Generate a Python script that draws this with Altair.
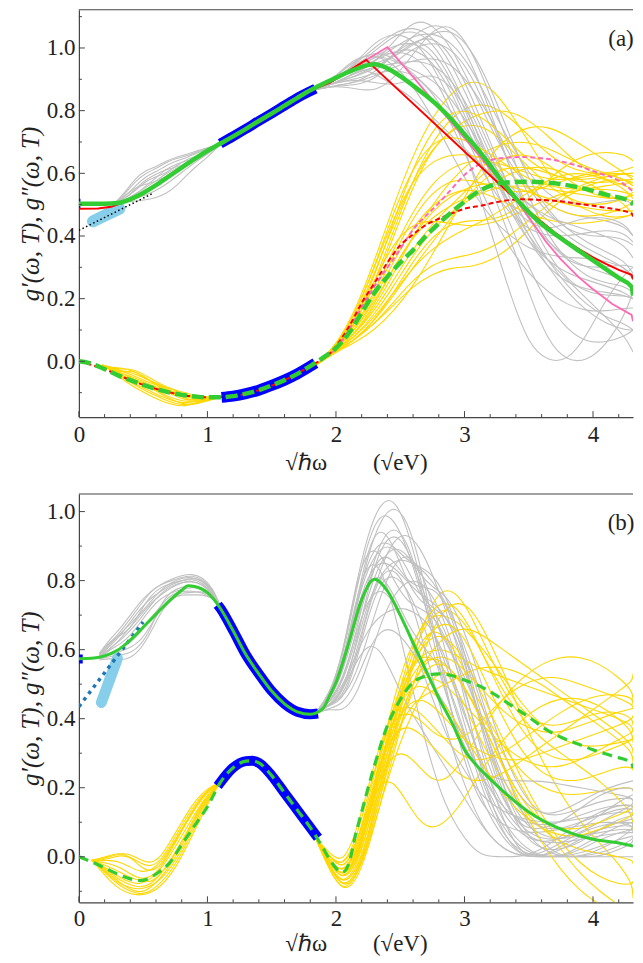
import altair as alt
import pandas as pd

# ---------------- layout constants ----------------
W = 555
HA, HB = 408, 409
X_MAX = 4.311
YA_DOM = [-0.178, 1.122]
YB_DOM = [-0.132, 1.051]
FONT = "Liberation Serif"
FRAME = "#444444"
TXT = "#222222"
GRAY, GOLD = "#c0c0c0", "#ffd700"
GREEN, RED, PINK = "#32cd32", "#ff0000", "#ff69b4"
BLUE, SKY, TAB = "#0000ff", "#87ceeb", "#1f77b4"

X_MAJOR = [0, 1, 2, 3, 4]
X_MINOR = [0.2, 0.4, 0.6, 0.8, 1.2, 1.4, 1.6, 1.8, 2.2, 2.4, 2.6, 2.8, 3.2, 3.4, 3.6,
           3.8, 4.2]
YA_MAJOR = [0.0, 0.2, 0.4, 0.6, 0.8, 1.0]
YA_MINOR = [-0.1, 0.1, 0.3, 0.5, 0.7, 0.9, 1.1]
YB_MAJOR = [0.0, 0.2, 0.4, 0.6, 0.8, 1.0]
YB_MINOR = [-0.1, 0.1, 0.3, 0.5, 0.7, 0.9]
X_TITLE = "\u221a\u210f\u03c9\u2003\u2003(\u221aeV)"
Y_TITLE = "g\u2032(\u03c9, T), g\u2033(\u03c9, T)"
LABELS = ["(a)", "(b)"]

# ================= panel (a) data =================
GA_X = [0.0, 0.1, 0.2, 0.3, 0.4, 0.5, 0.6, 0.7, 0.8, 0.9, 1.0, 1.1, 1.2, 1.3, 1.4, 1.5,
        1.6, 1.7, 1.8, 1.9, 2.0, 2.1, 2.2, 2.3, 2.4, 2.5, 2.6, 2.7, 2.8, 2.9, 3.0, 3.1,
        3.2, 3.3, 3.4, 3.5, 3.6, 3.7, 3.8, 3.9, 4.0, 4.1, 4.2, 4.3, 4.4]
GA_Y = [0.503, 0.503, 0.503, 0.505, 0.517, 0.537, 0.562, 0.59, 0.618, 0.646, 0.672, 0.695,
        0.718, 0.742, 0.767, 0.791, 0.816, 0.841, 0.865, 0.886, 0.905, 0.924, 0.94, 0.948,
        0.935, 0.91, 0.88, 0.848, 0.813, 0.772, 0.725, 0.678, 0.625, 0.57, 0.52, 0.476,
        0.438, 0.407, 0.378, 0.35, 0.322, 0.294, 0.266, 0.238, 0.21]

GDA_X = [0.0, 0.1, 0.2, 0.3, 0.4, 0.5, 0.6, 0.7, 0.8, 0.9, 1.0, 1.1, 1.2, 1.3, 1.4, 1.5,
         1.6, 1.7, 1.8, 1.9, 2.0, 2.1, 2.2, 2.3, 2.4, 2.5, 2.6, 2.7, 2.8, 2.9, 3.0, 3.1,
         3.2, 3.3, 3.5, 3.7, 3.9, 4.1, 4.3, 4.4]
GDA_Y = [0.0, -0.008, -0.025, -0.044, -0.06, -0.075, -0.088, -0.099, -0.107, -0.112,
         -0.115, -0.115, -0.111, -0.103, -0.092, -0.077, -0.06, -0.04, -0.015, 0.012,
         0.042, 0.09, 0.155, 0.22, 0.27, 0.315, 0.355, 0.40, 0.44, 0.476, 0.51, 0.54,
         0.56, 0.57, 0.573, 0.568, 0.554, 0.532, 0.508, 0.498]

RA_X = [0.0, 0.15, 0.25, 0.33, 0.4, 0.5, 0.6, 0.7, 0.8, 0.9, 1.0, 1.1, 1.2, 1.3, 1.4, 1.5,
        1.6, 1.7, 1.8, 1.95, 2.235, 3.4, 3.5, 3.6, 3.7, 3.8, 3.9, 4.0, 4.1, 4.2, 4.3, 4.4]
RA_Y = [0.487, 0.488, 0.493, 0.505, 0.517, 0.537, 0.562, 0.59, 0.618, 0.646, 0.672, 0.695,
        0.718, 0.742, 0.767, 0.791, 0.816, 0.841, 0.865, 0.889, 0.962, 0.517, 0.48, 0.445,
        0.412, 0.382, 0.356, 0.332, 0.311, 0.292, 0.276, 0.262]

RDA_X = [0.0, 0.2, 0.4, 0.6, 0.8, 1.0, 1.2, 1.4, 1.6, 1.8, 1.95, 2.1, 2.21, 2.3, 2.4,
         2.5, 2.6, 2.7, 2.8, 2.9, 3.0, 3.12, 3.3, 3.45, 3.6, 3.76, 3.9, 4.1, 4.3, 4.4]
RDA_Y = [0.0, -0.025, -0.06, -0.088, -0.107, -0.115, -0.111, -0.092, -0.06, -0.015, 0.024,
         0.11, 0.193, 0.25, 0.315, 0.37, 0.405, 0.435, 0.455, 0.472, 0.487, 0.496, 0.512,
         0.517, 0.515, 0.51, 0.502, 0.49, 0.472, 0.462]

PA_X = [1.95, 2.235, 2.4, 2.6, 2.8, 3.0, 3.2, 3.35, 3.5, 3.63, 3.75, 3.89, 4.0, 4.15,
        4.3, 4.4]
PA_Y = [0.889, 0.962, 1.003, 0.908, 0.81, 0.712, 0.614, 0.544, 0.46, 0.384, 0.325, 0.268,
        0.23, 0.183, 0.148, 0.128]

PDA_X = [1.95, 2.0, 2.1, 2.21, 2.3, 2.47, 2.6, 2.8, 2.9, 3.0, 3.1, 3.2, 3.3, 3.45, 3.6,
         3.75, 3.89, 4.05, 4.2, 4.4]
PDA_Y = [0.024, 0.04, 0.1, 0.18, 0.24, 0.34, 0.42, 0.505, 0.55, 0.595, 0.625, 0.642,
         0.649, 0.652, 0.648, 0.638, 0.623, 0.60, 0.577, 0.542]

BA1_X = [1.1, 1.2, 1.3, 1.4, 1.5, 1.6, 1.7, 1.84]
BA1_Y = [0.695, 0.718, 0.742, 0.767, 0.791, 0.816, 0.841, 0.87]
BA2_X = [1.11, 1.2, 1.3, 1.4, 1.5, 1.6, 1.7, 1.84]
BA2_Y = [-0.115, -0.111, -0.103, -0.092, -0.077, -0.06, -0.04, -0.006]
BA0_X = [0.0, 0.012]
BA0_Y = [0.503, 0.503]
SKYA_X = [0.11, 0.2, 0.315]
SKYA_Y = [0.447, 0.465, 0.487]
DOTA_X = [0.0, 0.57]
DOTA_Y = [0.418, 0.535]

GLA_X = [0.28, 0.36, 0.44, 0.52, 0.6, 0.68, 0.76, 0.84, 0.92, 1.0, 1.1]
GLA = [
    [0.505, 0.515, 0.535, 0.555, 0.575, 0.600, 0.615, 0.635, 0.655, 0.672, 0.693],
    [0.505, 0.525, 0.560, 0.590, 0.605, 0.625, 0.640, 0.650, 0.665, 0.678, 0.693],
    [0.505, 0.510, 0.520, 0.530, 0.545, 0.565, 0.590, 0.615, 0.640, 0.660, 0.693],
    [0.505, 0.535, 0.575, 0.600, 0.615, 0.635, 0.648, 0.655, 0.668, 0.680, 0.693],
    [0.505, 0.508, 0.512, 0.515, 0.522, 0.535, 0.560, 0.595, 0.625, 0.650, 0.693],
    [0.505, 0.520, 0.545, 0.575, 0.590, 0.600, 0.625, 0.645, 0.655, 0.670, 0.693],
    [0.505, 0.512, 0.530, 0.560, 0.585, 0.615, 0.630, 0.640, 0.650, 0.665, 0.693],
    [0.505, 0.530, 0.555, 0.565, 0.575, 0.590, 0.605, 0.625, 0.648, 0.668, 0.693],
    [0.505, 0.515, 0.525, 0.540, 0.560, 0.580, 0.605, 0.628, 0.648, 0.667, 0.693],
    [0.505, 0.540, 0.585, 0.610, 0.620, 0.640, 0.652, 0.660, 0.672, 0.682, 0.693],
    [0.505, 0.518, 0.550, 0.580, 0.598, 0.612, 0.620, 0.632, 0.652, 0.672, 0.693],
    [0.505, 0.509, 0.518, 0.538, 0.566, 0.592, 0.612, 0.628, 0.644, 0.662, 0.693],
]
YLA_X = [0.18, 0.26, 0.34, 0.42, 0.5, 0.58, 0.66, 0.74, 0.82, 0.9, 1.0, 1.1]
YLA = [
    [-0.012, -0.025, -0.040, -0.055, -0.070, -0.082, -0.095, -0.105, -0.112, -0.116, -0.117, -0.115],
    [-0.012, -0.022, -0.025, -0.025, -0.040, -0.060, -0.078, -0.090, -0.100, -0.108, -0.114, -0.115],
    [-0.012, -0.030, -0.050, -0.068, -0.085, -0.100, -0.115, -0.128, -0.133, -0.130, -0.122, -0.115],
    [-0.012, -0.028, -0.035, -0.030, -0.045, -0.070, -0.090, -0.110, -0.122, -0.126, -0.120, -0.115],
    [-0.012, -0.032, -0.058, -0.080, -0.098, -0.115, -0.130, -0.140, -0.143, -0.136, -0.124, -0.115],
    [-0.012, -0.024, -0.032, -0.045, -0.060, -0.072, -0.085, -0.098, -0.108, -0.115, -0.118, -0.115],
    [-0.012, -0.026, -0.045, -0.062, -0.075, -0.088, -0.105, -0.120, -0.128, -0.128, -0.121, -0.115],
    [-0.012, -0.020, -0.022, -0.030, -0.050, -0.068, -0.080, -0.092, -0.105, -0.112, -0.116, -0.115],
    [-0.012, -0.030, -0.048, -0.060, -0.072, -0.090, -0.110, -0.125, -0.138, -0.138, -0.126, -0.115],
    [-0.012, -0.027, -0.040, -0.050, -0.065, -0.078, -0.092, -0.102, -0.112, -0.120, -0.120, -0.115],
    [-0.012, -0.021, -0.030, -0.038, -0.052, -0.066, -0.084, -0.100, -0.118, -0.124, -0.119, -0.115],
    [-0.012, -0.029, -0.052, -0.072, -0.090, -0.106, -0.122, -0.134, -0.140, -0.134, -0.123, -0.115],
]
RA_GRID = [1.85, 2.0, 2.15, 2.3, 2.45, 2.6, 2.75, 2.9, 3.05, 3.2, 3.35, 3.5, 3.65, 3.8,
           3.95, 4.1, 4.25, 4.4]
GRA = [
    [0.868, 0.90, 0.95, 1.00, 1.05, 1.07, 1.04, 0.95, 0.82, 0.68, 0.55, 0.45, 0.38, 0.33, 0.30, 0.28, 0.26, 0.23],
    [0.868, 0.89, 0.90, 0.89, 0.88, 0.90, 0.92, 0.88, 0.78, 0.64, 0.50, 0.38, 0.30, 0.25, 0.23, 0.22, 0.21, 0.20],
    [0.868, 0.91, 0.97, 0.98, 0.95, 0.88, 0.78, 0.66, 0.55, 0.46, 0.40, 0.36, 0.34, 0.33, 0.33, 0.32, 0.30, 0.27],
    [0.868, 0.88, 0.87, 0.86, 0.90, 0.98, 1.06, 1.08, 1.00, 0.85, 0.68, 0.52, 0.40, 0.32, 0.27, 0.25, 0.24, 0.22],
    [0.868, 0.90, 0.93, 0.96, 0.99, 1.00, 0.96, 0.86, 0.72, 0.56, 0.40, 0.22, 0.06, 0.00, 0.00, 0.05, 0.15, 0.22],
    [0.868, 0.89, 0.92, 0.95, 1.02, 1.09, 1.08, 1.00, 0.88, 0.75, 0.63, 0.55, 0.50, 0.47, 0.46, 0.45, 0.43, 0.40],
    [0.868, 0.90, 0.94, 0.92, 0.88, 0.84, 0.78, 0.72, 0.66, 0.60, 0.55, 0.50, 0.45, 0.40, 0.36, 0.33, 0.30, 0.26],
    [0.868, 0.89, 0.91, 0.94, 0.97, 1.02, 1.04, 0.98, 0.85, 0.70, 0.55, 0.42, 0.32, 0.24, 0.18, 0.14, 0.12, 0.10],
    [0.868, 0.90, 0.95, 1.02, 1.05, 1.03, 0.95, 0.82, 0.68, 0.56, 0.47, 0.42, 0.40, 0.40, 0.41, 0.42, 0.41, 0.38],
    [0.868, 0.88, 0.89, 0.91, 0.94, 0.96, 0.97, 0.95, 0.88, 0.78, 0.66, 0.55, 0.47, 0.42, 0.40, 0.40, 0.39, 0.37],
    [0.868, 0.90, 0.94, 0.97, 0.99, 0.98, 0.92, 0.80, 0.62, 0.42, 0.22, 0.05, 0.00, 0.00, 0.08, 0.20, 0.28, 0.30],
    [0.868, 0.89, 0.92, 0.96, 1.00, 1.04, 1.05, 1.02, 0.94, 0.82, 0.70, 0.60, 0.53, 0.50, 0.50, 0.51, 0.52, 0.50],
    [0.868, 0.91, 0.96, 0.99, 0.97, 0.92, 0.86, 0.80, 0.72, 0.62, 0.50, 0.40, 0.32, 0.26, 0.20, 0.14, 0.08, 0.03],
    [0.868, 0.88, 0.88, 0.90, 0.95, 1.00, 1.02, 1.00, 0.92, 0.78, 0.62, 0.48, 0.38, 0.32, 0.30, 0.30, 0.31, 0.30],
    [0.868, 0.90, 0.93, 0.95, 0.97, 1.01, 1.05, 1.06, 1.00, 0.88, 0.72, 0.58, 0.48, 0.42, 0.38, 0.35, 0.32, 0.28],
    [0.868, 0.89, 0.90, 0.92, 0.93, 0.92, 0.86, 0.76, 0.62, 0.48, 0.36, 0.28, 0.22, 0.18, 0.16, 0.16, 0.17, 0.17],
    [0.868, 0.90, 0.94, 0.99, 1.04, 1.06, 1.02, 0.92, 0.78, 0.62, 0.48, 0.38, 0.32, 0.28, 0.26, 0.24, 0.22, 0.20],
    [0.868, 0.89, 0.91, 0.93, 0.98, 1.03, 1.00, 0.90, 0.76, 0.60, 0.44, 0.30, 0.18, 0.10, 0.06, 0.06, 0.08, 0.10],
    [0.868, 0.90, 0.95, 0.98, 0.96, 0.93, 0.90, 0.84, 0.74, 0.64, 0.56, 0.50, 0.46, 0.44, 0.42, 0.40, 0.37, 0.33],
    [0.868, 0.88, 0.89, 0.92, 0.98, 1.04, 1.08, 1.06, 0.96, 0.80, 0.62, 0.46, 0.34, 0.26, 0.22, 0.21, 0.21, 0.20],
    [0.868, 0.90, 0.93, 0.97, 1.01, 1.02, 0.98, 0.88, 0.74, 0.60, 0.50, 0.44, 0.42, 0.44, 0.46, 0.46, 0.44, 0.40],
    [0.868, 0.89, 0.92, 0.94, 0.95, 0.96, 0.95, 0.90, 0.80, 0.66, 0.52, 0.40, 0.30, 0.22, 0.16, 0.12, 0.10, 0.10],
]
YRA = [
    [-0.010, 0.040, 0.12, 0.25, 0.42, 0.58, 0.70, 0.78, 0.82, 0.82, 0.78, 0.72, 0.66, 0.62, 0.60, 0.60, 0.61, 0.62],
    [-0.010, 0.030, 0.08, 0.15, 0.24, 0.34, 0.42, 0.48, 0.52, 0.55, 0.56, 0.56, 0.55, 0.54, 0.53, 0.52, 0.52, 0.51],
    [-0.010, 0.050, 0.16, 0.32, 0.50, 0.66, 0.78, 0.86, 0.90, 0.88, 0.80, 0.70, 0.60, 0.52, 0.48, 0.46, 0.46, 0.47],
    [-0.010, 0.030, 0.07, 0.12, 0.18, 0.24, 0.28, 0.30, 0.30, 0.32, 0.36, 0.42, 0.48, 0.53, 0.56, 0.58, 0.58, 0.57],
    [-0.010, 0.040, 0.11, 0.22, 0.36, 0.48, 0.57, 0.62, 0.64, 0.64, 0.62, 0.60, 0.58, 0.58, 0.59, 0.60, 0.60, 0.59],
    [-0.010, 0.035, 0.09, 0.17, 0.28, 0.40, 0.50, 0.58, 0.64, 0.68, 0.70, 0.70, 0.68, 0.65, 0.62, 0.60, 0.58, 0.56],
    [-0.010, 0.045, 0.13, 0.26, 0.38, 0.44, 0.45, 0.44, 0.43, 0.44, 0.46, 0.49, 0.52, 0.54, 0.55, 0.55, 0.54, 0.53],
    [-0.010, 0.030, 0.06, 0.10, 0.16, 0.24, 0.34, 0.45, 0.56, 0.66, 0.72, 0.75, 0.75, 0.72, 0.68, 0.64, 0.60, 0.58],
    [-0.010, 0.040, 0.10, 0.20, 0.32, 0.43, 0.50, 0.54, 0.55, 0.53, 0.50, 0.47, 0.45, 0.44, 0.44, 0.45, 0.46, 0.47],
    [-0.010, 0.050, 0.15, 0.30, 0.46, 0.58, 0.64, 0.66, 0.66, 0.64, 0.60, 0.55, 0.50, 0.47, 0.46, 0.47, 0.49, 0.51],
    [-0.010, 0.030, 0.07, 0.13, 0.22, 0.32, 0.40, 0.44, 0.45, 0.45, 0.47, 0.52, 0.58, 0.63, 0.66, 0.67, 0.66, 0.64],
    [-0.010, 0.040, 0.12, 0.24, 0.40, 0.56, 0.68, 0.74, 0.76, 0.74, 0.68, 0.62, 0.56, 0.52, 0.50, 0.50, 0.52, 0.54],
    [-0.010, 0.035, 0.09, 0.18, 0.30, 0.40, 0.46, 0.50, 0.53, 0.56, 0.60, 0.62, 0.62, 0.60, 0.57, 0.54, 0.50, 0.47],
    [-0.010, 0.030, 0.07, 0.12, 0.19, 0.26, 0.31, 0.33, 0.34, 0.36, 0.40, 0.45, 0.50, 0.54, 0.57, 0.59, 0.60, 0.60],
    [-0.010, 0.045, 0.14, 0.28, 0.44, 0.58, 0.68, 0.74, 0.78, 0.80, 0.80, 0.77, 0.72, 0.66, 0.61, 0.58, 0.56, 0.55],
    [-0.010, 0.040, 0.10, 0.19, 0.30, 0.40, 0.48, 0.53, 0.56, 0.57, 0.56, 0.54, 0.52, 0.50, 0.49, 0.48, 0.48, 0.48],
    [-0.010, 0.045, 0.13, 0.27, 0.45, 0.62, 0.74, 0.80, 0.80, 0.76, 0.70, 0.64, 0.60, 0.58, 0.58, 0.59, 0.60, 0.60],
    [-0.010, 0.035, 0.09, 0.16, 0.26, 0.36, 0.44, 0.50, 0.56, 0.62, 0.66, 0.66, 0.63, 0.58, 0.54, 0.52, 0.52, 0.53],
    [-0.010, 0.040, 0.11, 0.21, 0.34, 0.46, 0.54, 0.58, 0.58, 0.56, 0.54, 0.54, 0.56, 0.58, 0.60, 0.60, 0.58, 0.56],
    [-0.010, 0.030, 0.07, 0.13, 0.21, 0.30, 0.38, 0.46, 0.54, 0.60, 0.62, 0.62, 0.60, 0.58, 0.57, 0.57, 0.58, 0.58],
    [-0.010, 0.050, 0.15, 0.30, 0.48, 0.62, 0.70, 0.72, 0.70, 0.66, 0.62, 0.58, 0.56, 0.55, 0.55, 0.56, 0.57, 0.57],
    [-0.010, 0.035, 0.08, 0.14, 0.22, 0.30, 0.36, 0.40, 0.43, 0.46, 0.50, 0.54, 0.58, 0.60, 0.60, 0.58, 0.55, 0.52],
]

# ================= panel (b) data =================
GB_X = [0.0, 0.1, 0.2, 0.3, 0.4, 0.5, 0.6, 0.7, 0.8, 0.85, 0.9, 1.0, 1.1, 1.2, 1.3, 1.4,
        1.5, 1.6, 1.7, 1.8, 1.9, 1.95, 2.0, 2.1, 2.2, 2.3, 2.4, 2.5, 2.6, 2.7, 2.8, 2.9,
        3.0, 3.1, 3.2, 3.3, 3.4, 3.5, 3.6, 3.7, 3.8, 3.9, 4.0, 4.2, 4.4]
GB_Y = [0.574, 0.575, 0.582, 0.598, 0.628, 0.665, 0.703, 0.74, 0.772, 0.785, 0.783, 0.765,
        0.72, 0.655, 0.585, 0.53, 0.48, 0.443, 0.42, 0.413, 0.43, 0.466, 0.505, 0.62, 0.745,
        0.804, 0.77, 0.70, 0.62, 0.54, 0.46, 0.39, 0.31, 0.262, 0.225, 0.19, 0.158, 0.13,
        0.107, 0.088, 0.073, 0.06, 0.051, 0.04, 0.031]

GDB_X = [0.0, 0.1, 0.2, 0.3, 0.4, 0.48, 0.55, 0.6, 0.7, 0.8, 0.9, 1.0, 1.1, 1.2, 1.3, 1.35,
         1.4, 1.5, 1.6, 1.7, 1.8, 1.9, 1.95, 2.05, 2.1, 2.15, 2.2, 2.3, 2.4, 2.5, 2.6, 2.7,
         2.8, 2.9, 3.0, 3.116, 3.2, 3.37, 3.5, 3.63, 3.76, 3.89, 4.0, 4.15, 4.3, 4.4]
GDB_Y = [0.0, -0.015, -0.032, -0.05, -0.064, -0.069, -0.062, -0.05, -0.02, 0.035, 0.09,
         0.145, 0.215, 0.258, 0.277, 0.278, 0.272, 0.235, 0.185, 0.135, 0.085, 0.025,
         -0.007, -0.045, -0.02, 0.06, 0.13, 0.265, 0.38, 0.455, 0.505, 0.524, 0.53, 0.525,
         0.512, 0.495, 0.478, 0.437, 0.405, 0.37, 0.345, 0.326, 0.31, 0.292, 0.272, 0.257]

BB1_X = [1.08, 1.1, 1.2, 1.3, 1.4, 1.5, 1.6, 1.7, 1.8, 1.86]
BB1_Y = [0.73, 0.72, 0.655, 0.585, 0.53, 0.48, 0.443, 0.42, 0.413, 0.415]
BB2_X = [1.08, 1.1, 1.2, 1.3, 1.35, 1.4, 1.5, 1.6, 1.7, 1.8, 1.86]
BB2_Y = [0.205, 0.215, 0.258, 0.277, 0.278, 0.272, 0.235, 0.185, 0.135, 0.085, 0.055]
BB0_X = [0.0, 0.03]
BB0_Y = [0.573, 0.573]
SKYB_X = [0.175, 0.3]
SKYB_Y = [0.447, 0.575]
DOTB_X = [0.0, 0.5]
DOTB_Y = [0.435, 0.68]

GLB_X = [0.16, 0.24, 0.32, 0.40, 0.48, 0.56, 0.64, 0.72, 0.80, 0.88, 0.96, 1.04, 1.1]
GLB = [
    [0.580, 0.600, 0.630, 0.665, 0.700, 0.735, 0.760, 0.780, 0.795, 0.800, 0.790, 0.760, 0.727],
    [0.575, 0.590, 0.600, 0.620, 0.650, 0.690, 0.730, 0.760, 0.770, 0.770, 0.765, 0.750, 0.727],
    [0.585, 0.620, 0.650, 0.690, 0.730, 0.770, 0.790, 0.800, 0.810, 0.815, 0.805, 0.775, 0.727],
    [0.570, 0.575, 0.570, 0.575, 0.600, 0.650, 0.710, 0.750, 0.760, 0.758, 0.760, 0.750, 0.727],
    [0.580, 0.610, 0.640, 0.680, 0.720, 0.750, 0.770, 0.790, 0.800, 0.805, 0.795, 0.765, 0.727],
    [0.575, 0.600, 0.615, 0.640, 0.680, 0.720, 0.750, 0.765, 0.775, 0.780, 0.780, 0.760, 0.727],
    [0.590, 0.630, 0.660, 0.700, 0.740, 0.770, 0.790, 0.805, 0.815, 0.820, 0.810, 0.780, 0.727],
    [0.572, 0.585, 0.595, 0.605, 0.625, 0.670, 0.720, 0.755, 0.765, 0.765, 0.770, 0.755, 0.727],
    [0.578, 0.605, 0.625, 0.655, 0.690, 0.730, 0.765, 0.785, 0.795, 0.798, 0.790, 0.765, 0.727],
    [0.583, 0.615, 0.645, 0.675, 0.705, 0.740, 0.775, 0.795, 0.808, 0.810, 0.800, 0.770, 0.727],
    [0.588, 0.625, 0.640, 0.660, 0.712, 0.758, 0.782, 0.792, 0.800, 0.808, 0.802, 0.772, 0.727],
    [0.573, 0.580, 0.585, 0.590, 0.612, 0.660, 0.735, 0.770, 0.782, 0.785, 0.782, 0.758, 0.727],
]
YLB_X = [0.10, 0.16, 0.24, 0.32, 0.40, 0.48, 0.56, 0.64, 0.72, 0.80, 0.88, 0.96, 1.04, 1.1]
YLB = [
    [-0.010, -0.020, -0.040, -0.060, -0.075, -0.080, -0.065, -0.035, 0.010, 0.060, 0.110, 0.160, 0.195, 0.215],
    [-0.010, -0.010, -0.005, 0.005, 0.000, -0.020, -0.030, -0.010, 0.040, 0.090, 0.140, 0.180, 0.205, 0.215],
    [-0.010, -0.030, -0.060, -0.085, -0.100, -0.110, -0.100, -0.075, -0.040, 0.010, 0.070, 0.130, 0.185, 0.215],
    [-0.010, -0.015, -0.020, -0.030, -0.050, -0.065, -0.060, -0.030, 0.020, 0.075, 0.125, 0.170, 0.200, 0.215],
    [-0.010, -0.025, -0.050, -0.075, -0.095, -0.105, -0.090, -0.060, -0.020, 0.030, 0.090, 0.145, 0.190, 0.215],
    [-0.010, -0.012, -0.010, -0.015, -0.030, -0.045, -0.040, -0.015, 0.030, 0.080, 0.130, 0.175, 0.203, 0.215],
    [-0.010, -0.035, -0.070, -0.095, -0.108, -0.112, -0.105, -0.085, -0.050, 0.000, 0.060, 0.120, 0.180, 0.215],
    [-0.010, -0.018, -0.030, -0.045, -0.060, -0.070, -0.075, -0.050, -0.005, 0.045, 0.100, 0.155, 0.195, 0.215],
    [-0.010, -0.008, 0.000, 0.010, 0.008, -0.010, -0.020, 0.000, 0.050, 0.100, 0.150, 0.185, 0.207, 0.215],
    [-0.010, -0.028, -0.055, -0.080, -0.090, -0.095, -0.085, -0.065, -0.030, 0.020, 0.080, 0.140, 0.188, 0.215],
    [-0.010, -0.022, -0.045, -0.068, -0.082, -0.090, -0.080, -0.050, -0.010, 0.040, 0.095, 0.150, 0.192, 0.215],
    [-0.010, -0.005, 0.004, 0.012, 0.000, -0.030, -0.045, -0.025, 0.025, 0.080, 0.130, 0.176, 0.204, 0.215],
]
RB_GRID = [1.84, 1.95, 2.05, 2.15, 2.25, 2.35, 2.45, 2.55, 2.65, 2.75, 2.85, 2.95, 3.05,
           3.15, 3.3, 3.45, 3.6, 3.75, 3.9, 4.05, 4.2, 4.35, 4.45]
GRB = [
    [0.415, 0.46, 0.52, 0.70, 0.88, 0.98, 1.02, 0.98, 0.86, 0.68, 0.50, 0.34, 0.22, 0.14, 0.09, 0.07, 0.07, 0.08, 0.09, 0.10, 0.10, 0.09, 0.08],
    [0.415, 0.44, 0.45, 0.55, 0.70, 0.80, 0.82, 0.78, 0.70, 0.60, 0.48, 0.36, 0.25, 0.15, 0.05, 0.00, 0.00, 0.00, 0.02, 0.05, 0.07, 0.08, 0.08],
    [0.415, 0.47, 0.58, 0.78, 0.90, 0.88, 0.80, 0.74, 0.72, 0.70, 0.64, 0.54, 0.42, 0.30, 0.16, 0.08, 0.05, 0.05, 0.07, 0.10, 0.13, 0.15, 0.16],
    [0.415, 0.43, 0.42, 0.46, 0.56, 0.68, 0.76, 0.80, 0.80, 0.76, 0.68, 0.56, 0.42, 0.28, 0.10, 0.00, 0.00, 0.00, 0.00, 0.00, 0.00, 0.00, 0.00],
    [0.415, 0.45, 0.50, 0.62, 0.76, 0.86, 0.90, 0.88, 0.82, 0.78, 0.76, 0.70, 0.60, 0.48, 0.30, 0.18, 0.12, 0.12, 0.14, 0.16, 0.17, 0.17, 0.16],
    [0.415, 0.46, 0.55, 0.74, 0.86, 0.84, 0.72, 0.56, 0.40, 0.26, 0.15, 0.08, 0.03, 0.00, 0.00, 0.00, 0.02, 0.06, 0.10, 0.13, 0.15, 0.15, 0.14],
    [0.415, 0.44, 0.47, 0.58, 0.72, 0.84, 0.92, 0.94, 0.90, 0.82, 0.72, 0.60, 0.48, 0.36, 0.20, 0.10, 0.06, 0.05, 0.06, 0.07, 0.08, 0.08, 0.07],
    [0.415, 0.45, 0.48, 0.56, 0.62, 0.60, 0.52, 0.44, 0.38, 0.32, 0.26, 0.20, 0.14, 0.08, 0.02, 0.00, 0.00, 0.03, 0.06, 0.08, 0.09, 0.09, 0.08],
    [0.415, 0.47, 0.56, 0.72, 0.84, 0.90, 0.90, 0.84, 0.76, 0.72, 0.70, 0.64, 0.54, 0.42, 0.26, 0.16, 0.12, 0.13, 0.16, 0.19, 0.21, 0.22, 0.22],
    [0.415, 0.44, 0.46, 0.52, 0.64, 0.76, 0.85, 0.88, 0.84, 0.74, 0.60, 0.45, 0.32, 0.20, 0.08, 0.02, 0.00, 0.00, 0.01, 0.03, 0.05, 0.06, 0.06],
    [0.415, 0.46, 0.53, 0.66, 0.80, 0.92, 0.96, 0.92, 0.80, 0.64, 0.48, 0.36, 0.28, 0.24, 0.22, 0.22, 0.22, 0.21, 0.20, 0.19, 0.18, 0.17, 0.16],
    [0.415, 0.43, 0.44, 0.50, 0.60, 0.66, 0.66, 0.62, 0.56, 0.50, 0.44, 0.38, 0.30, 0.22, 0.10, 0.03, 0.00, 0.00, 0.00, 0.00, 0.02, 0.04, 0.05],
    [0.415, 0.46, 0.54, 0.70, 0.82, 0.86, 0.84, 0.80, 0.76, 0.74, 0.70, 0.62, 0.50, 0.36, 0.18, 0.06, 0.02, 0.02, 0.04, 0.08, 0.11, 0.12, 0.12],
    [0.415, 0.45, 0.51, 0.64, 0.75, 0.78, 0.74, 0.66, 0.56, 0.46, 0.36, 0.28, 0.22, 0.17, 0.13, 0.11, 0.10, 0.10, 0.11, 0.12, 0.13, 0.13, 0.12],
    [0.415, 0.44, 0.48, 0.60, 0.74, 0.82, 0.86, 0.86, 0.84, 0.80, 0.74, 0.66, 0.56, 0.44, 0.26, 0.12, 0.04, 0.00, 0.00, 0.02, 0.05, 0.08, 0.10],
    [0.415, 0.47, 0.57, 0.76, 0.92, 1.00, 0.98, 0.90, 0.78, 0.66, 0.56, 0.46, 0.36, 0.26, 0.14, 0.07, 0.04, 0.04, 0.05, 0.06, 0.07, 0.07, 0.07],
    [0.415, 0.45, 0.53, 0.72, 0.90, 0.96, 0.90, 0.80, 0.74, 0.72, 0.66, 0.54, 0.38, 0.22, 0.06, 0.00, 0.00, 0.02, 0.05, 0.08, 0.10, 0.11, 0.11],
    [0.415, 0.44, 0.47, 0.60, 0.78, 0.90, 0.94, 0.90, 0.80, 0.70, 0.62, 0.56, 0.48, 0.38, 0.22, 0.12, 0.08, 0.08, 0.10, 0.12, 0.14, 0.14, 0.13],
    [0.415, 0.46, 0.54, 0.68, 0.80, 0.82, 0.76, 0.68, 0.62, 0.58, 0.52, 0.42, 0.30, 0.18, 0.06, 0.01, 0.00, 0.00, 0.03, 0.06, 0.09, 0.10, 0.10],
    [0.415, 0.45, 0.50, 0.64, 0.80, 0.88, 0.86, 0.80, 0.78, 0.78, 0.74, 0.64, 0.50, 0.34, 0.16, 0.08, 0.08, 0.10, 0.14, 0.18, 0.20, 0.20, 0.19],
    [0.415, 0.44, 0.46, 0.56, 0.72, 0.82, 0.84, 0.78, 0.66, 0.52, 0.38, 0.26, 0.16, 0.08, 0.02, 0.00, 0.01, 0.04, 0.07, 0.09, 0.10, 0.10, 0.09],
    [0.415, 0.47, 0.58, 0.78, 0.94, 1.03, 1.04, 0.96, 0.82, 0.66, 0.52, 0.40, 0.30, 0.22, 0.14, 0.10, 0.09, 0.10, 0.12, 0.14, 0.15, 0.15, 0.14],
    [0.415, 0.45, 0.49, 0.58, 0.66, 0.70, 0.72, 0.72, 0.70, 0.66, 0.58, 0.48, 0.36, 0.24, 0.12, 0.06, 0.04, 0.05, 0.08, 0.12, 0.16, 0.18, 0.18],
    [0.415, 0.46, 0.55, 0.73, 0.86, 0.92, 0.90, 0.86, 0.84, 0.82, 0.76, 0.66, 0.52, 0.38, 0.20, 0.08, 0.02, 0.00, 0.00, 0.01, 0.03, 0.05, 0.06],
]
YRB = [
    [0.055, -0.02, -0.07, -0.02, 0.12, 0.30, 0.46, 0.58, 0.66, 0.70, 0.70, 0.68, 0.64, 0.60, 0.52, 0.44, 0.38, 0.34, 0.32, 0.32, 0.33, 0.34, 0.34],
    [0.055, 0.00, -0.04, 0.02, 0.16, 0.32, 0.44, 0.50, 0.52, 0.52, 0.50, 0.46, 0.42, 0.38, 0.32, 0.28, 0.26, 0.26, 0.28, 0.31, 0.34, 0.36, 0.37],
    [0.055, -0.04, -0.10, -0.08, 0.02, 0.16, 0.30, 0.44, 0.56, 0.66, 0.72, 0.74, 0.72, 0.66, 0.54, 0.40, 0.28, 0.18, 0.10, 0.04, -0.02, -0.08, -0.12],
    [0.055, -0.01, -0.05, 0.00, 0.12, 0.24, 0.30, 0.30, 0.26, 0.22, 0.22, 0.26, 0.32, 0.38, 0.46, 0.52, 0.56, 0.58, 0.58, 0.56, 0.52, 0.48, 0.45],
    [0.055, -0.03, -0.08, -0.05, 0.06, 0.22, 0.38, 0.52, 0.62, 0.66, 0.64, 0.58, 0.50, 0.42, 0.32, 0.24, 0.20, 0.18, 0.18, 0.19, 0.20, 0.20, 0.19],
    [0.055, 0.01, -0.02, 0.06, 0.20, 0.34, 0.42, 0.44, 0.42, 0.38, 0.34, 0.30, 0.28, 0.28, 0.30, 0.34, 0.38, 0.42, 0.45, 0.47, 0.47, 0.46, 0.44],
    [0.055, -0.02, -0.06, -0.02, 0.10, 0.26, 0.40, 0.52, 0.60, 0.64, 0.64, 0.60, 0.54, 0.46, 0.34, 0.22, 0.12, 0.04, -0.02, -0.06, -0.08, -0.08, -0.07],
    [0.055, 0.00, -0.03, 0.03, 0.14, 0.22, 0.22, 0.16, 0.10, 0.08, 0.10, 0.14, 0.20, 0.26, 0.34, 0.40, 0.44, 0.46, 0.46, 0.44, 0.40, 0.36, 0.33],
    [0.055, -0.03, -0.09, -0.06, 0.04, 0.18, 0.34, 0.50, 0.64, 0.74, 0.78, 0.76, 0.70, 0.62, 0.50, 0.42, 0.38, 0.38, 0.40, 0.42, 0.42, 0.40, 0.38],
    [0.055, -0.01, -0.05, 0.01, 0.14, 0.30, 0.44, 0.54, 0.58, 0.58, 0.54, 0.48, 0.40, 0.32, 0.22, 0.14, 0.08, 0.04, 0.02, 0.01, 0.00, -0.01, -0.02],
    [0.055, -0.02, -0.07, -0.03, 0.08, 0.22, 0.34, 0.42, 0.46, 0.48, 0.50, 0.52, 0.54, 0.55, 0.55, 0.53, 0.50, 0.46, 0.42, 0.38, 0.34, 0.30, 0.27],
    [0.055, -0.03, -0.08, -0.04, 0.08, 0.24, 0.40, 0.54, 0.64, 0.70, 0.72, 0.70, 0.65, 0.58, 0.48, 0.40, 0.34, 0.30, 0.26, 0.22, 0.17, 0.12, 0.08],
    [0.055, 0.00, -0.04, 0.02, 0.15, 0.28, 0.36, 0.38, 0.36, 0.32, 0.28, 0.24, 0.22, 0.22, 0.24, 0.28, 0.32, 0.36, 0.40, 0.44, 0.48, 0.51, 0.53],
    [0.055, -0.02, -0.06, -0.01, 0.11, 0.26, 0.40, 0.50, 0.56, 0.58, 0.56, 0.52, 0.46, 0.40, 0.30, 0.20, 0.10, 0.02, -0.05, -0.10, -0.14, -0.17, -0.19],
    [0.055, -0.01, -0.05, 0.00, 0.12, 0.28, 0.42, 0.52, 0.58, 0.60, 0.60, 0.58, 0.56, 0.54, 0.52, 0.50, 0.48, 0.46, 0.44, 0.42, 0.40, 0.38, 0.36],
    [0.055, -0.03, -0.09, -0.07, 0.03, 0.16, 0.28, 0.38, 0.46, 0.52, 0.54, 0.52, 0.46, 0.38, 0.26, 0.16, 0.10, 0.08, 0.08, 0.10, 0.12, 0.14, 0.15],
    [0.055, -0.02, -0.07, -0.03, 0.10, 0.26, 0.42, 0.56, 0.66, 0.72, 0.74, 0.72, 0.66, 0.58, 0.46, 0.36, 0.30, 0.28, 0.28, 0.30, 0.32, 0.34, 0.35],
    [0.055, -0.03, -0.08, -0.05, 0.06, 0.20, 0.34, 0.46, 0.54, 0.58, 0.58, 0.56, 0.52, 0.48, 0.42, 0.38, 0.36, 0.36, 0.38, 0.40, 0.42, 0.43, 0.43],
    [0.055, -0.01, -0.05, 0.00, 0.13, 0.28, 0.40, 0.48, 0.50, 0.48, 0.44, 0.38, 0.32, 0.26, 0.18, 0.12, 0.08, 0.06, 0.06, 0.08, 0.10, 0.12, 0.13],
    [0.055, -0.02, -0.06, -0.02, 0.10, 0.24, 0.36, 0.46, 0.54, 0.60, 0.64, 0.66, 0.66, 0.64, 0.60, 0.56, 0.52, 0.48, 0.44, 0.40, 0.36, 0.32, 0.30],
    [0.055, -0.04, -0.10, -0.07, 0.04, 0.18, 0.32, 0.44, 0.52, 0.56, 0.56, 0.52, 0.46, 0.38, 0.26, 0.14, 0.04, -0.04, -0.10, -0.14, -0.16, -0.16, -0.15],
    [0.055, 0.00, -0.03, 0.04, 0.18, 0.32, 0.40, 0.42, 0.40, 0.36, 0.34, 0.34, 0.36, 0.40, 0.46, 0.50, 0.52, 0.52, 0.50, 0.48, 0.46, 0.44, 0.43],
    [0.055, -0.03, -0.09, -0.06, 0.05, 0.20, 0.36, 0.50, 0.60, 0.66, 0.68, 0.66, 0.60, 0.52, 0.40, 0.30, 0.24, 0.22, 0.22, 0.24, 0.26, 0.26, 0.25],
    [0.055, -0.02, -0.06, -0.01, 0.12, 0.27, 0.38, 0.44, 0.46, 0.44, 0.40, 0.36, 0.32, 0.30, 0.28, 0.28, 0.30, 0.32, 0.34, 0.36, 0.38, 0.40, 0.41],
]

# ---------------- helpers ----------------


class Panel:
    def __init__(self, ydom, ymajor, yminor, height, x_label_pad, x_title_pad):
        self.ydom, self.ymajor, self.yminor, self.h = ydom, ymajor, yminor, height
        xax = alt.Axis(values=X_MAJOR, format="d", title=X_TITLE, ticks=False, grid=False,
                       domainColor=FRAME, domainWidth=1.2, labelFont=FONT, labelFontSize=23,
                       labelColor=TXT, labelFlush=False, labelOverlap=False,
                       labelPadding=x_label_pad, titleFont=FONT, titleFontSize=23,
                       titleFontWeight="normal", titleColor=TXT, titlePadding=x_title_pad)
        yax = alt.Axis(values=ymajor, format=".1f", title=Y_TITLE, ticks=False, grid=False,
                       domainColor=FRAME, domainWidth=1.2, labelFont=FONT, labelFontSize=23,
                       labelColor=TXT, labelOverlap=False, labelPadding=4, titleFont=FONT,
                       titleFontSize=25, titleFontWeight="normal", titleFontStyle="italic",
                       titleColor=TXT, titlePadding=3)
        self.X = alt.X("x:Q", scale=alt.Scale(domain=[0, X_MAX], nice=False, zero=False,
                                              clamp=True), axis=xax)
        self.Y = alt.Y("y:Q", scale=alt.Scale(domain=ydom, nice=False, zero=False), axis=yax)

    def line(self, xs, ys, color, width, dash=None, cap="butt", interp="monotone"):
        assert len(xs) == len(ys)
        kw = dict(color=color, strokeWidth=width, strokeCap=cap, interpolate=interp, clip=True)
        if dash:
            kw["strokeDash"] = dash
        return alt.Chart(pd.DataFrame({"x": xs, "y": ys})).mark_line(**kw).encode(x=self.X, y=self.Y)

    def ensemble(self, sets):
        rows = []
        for tag, grid, gcurves, ycurves in sets:
            n = max(len(gcurves), len(ycurves))
            for i in range(n):
                for kind, curves in (("g", gcurves), ("y", ycurves)):
                    if i < len(curves):
                        assert len(curves[i]) == len(grid), (tag, kind, i)
                        for x, y in zip(grid, curves[i]):
                            rows.append({"x": x, "y": y, "kind": kind, "cid": f"{tag}-{kind}-{i:02d}"})
        return alt.Chart(pd.DataFrame(rows)).mark_line(
            strokeWidth=1.1, interpolate="basis", clip=True).encode(
            x=self.X, y=self.Y,
            color=alt.Color("kind:N", scale=alt.Scale(domain=["g", "y"], range=[GRAY, GOLD]),
                            legend=None),
            detail="cid:N")

    def frame(self, label):
        out = []
        for vals, ln in ((X_MAJOR, 6), (X_MINOR, 3)):
            out.append(alt.Chart(pd.DataFrame({"x": vals})).mark_rule(
                color=FRAME, strokeWidth=1).encode(
                x=self.X, y=alt.value(self.h), y2=alt.value(self.h - ln)))
        for vals, ln in ((self.ymajor, 6), (self.yminor, 3)):
            out.append(alt.Chart(pd.DataFrame({"y": vals})).mark_rule(
                color=FRAME, strokeWidth=1).encode(
                y=self.Y, x=alt.value(0), x2=alt.value(ln)))
        out.append(alt.Chart(pd.DataFrame({"y": [self.ydom[1]]})).mark_rule(
            color=FRAME, strokeWidth=1.2).encode(y=self.Y, x=alt.value(0), x2=alt.value(W)))
        out.append(alt.Chart(pd.DataFrame({"t": [label]})).mark_text(
            font=FONT, fontSize=23, color=TXT, align="center", baseline="middle").encode(
            x=alt.value(543), y=alt.value(29), text="t:N"))
        return out


# ---------------- panel (a) ----------------
pa = Panel(YA_DOM, YA_MAJOR, YA_MINOR, HA, 6, 5)
layers_a = [
    pa.ensemble([("L", GLA_X, GLA, []), ("Ly", YLA_X, [], YLA), ("R", RA_GRID, GRA, YRA)]),
    pa.line(BA1_X, BA1_Y, BLUE, 10),
    pa.line(BA2_X, BA2_Y, BLUE, 11),
    pa.line(BA0_X, BA0_Y, BLUE, 10, interp="linear"),
    pa.line(SKYA_X, SKYA_Y, SKY, 12, cap="round"),
    pa.line(DOTA_X, DOTA_Y, "#000000", 1.5, dash=[1.5, 2.5], interp="linear"),
    pa.line(PA_X, PA_Y, PINK, 1.8, interp="linear"),
    pa.line(PDA_X, PDA_Y, PINK, 2, dash=[5, 3]),
    pa.line(RA_X, RA_Y, RED, 2, interp="linear"),
    pa.line(RDA_X, RDA_Y, RED, 2, dash=[5, 3]),
    pa.line(GA_X, GA_Y, GREEN, 4.5),
    pa.line(GDA_X, GDA_Y, GREEN, 4.5, dash=[12, 5]),
] + pa.frame(LABELS[0])
panel_a = alt.layer(*layers_a).properties(width=W, height=HA)

# ---------------- panel (b) ----------------
pb = Panel(YB_DOM, YB_MAJOR, YB_MINOR, HB, 5, 2)
layers_b = [
    pb.ensemble([("L", GLB_X, GLB, []), ("Ly", YLB_X, [], YLB), ("R", RB_GRID, GRB, YRB)]),
    pb.line(BB1_X, BB1_Y, BLUE, 10),
    pb.line(BB2_X, BB2_Y, BLUE, 10),
    pb.line(BB0_X, BB0_Y, BLUE, 9, interp="linear"),
    pb.line(SKYB_X, SKYB_Y, SKY, 11, cap="round", interp="linear"),
    pb.line(DOTB_X, DOTB_Y, TAB, 3.5, dash=[3.5, 4.5], interp="linear"),
    pb.line(GB_X, GB_Y, GREEN, 3),
    pb.line(GDB_X, GDB_Y, GREEN, 3.2, dash=[10, 6]),
] + pb.frame(LABELS[1])
panel_b = alt.layer(*layers_b).properties(width=W, height=HB)

chart = alt.vconcat(panel_a, panel_b, spacing=77, bounds="flush").properties(
    padding={"left": 10, "top": 0, "right": 0, "bottom": 0}
).configure_view(stroke=None)

chart.save("out.html", embed_options={"renderer": "svg", "actions": False})
